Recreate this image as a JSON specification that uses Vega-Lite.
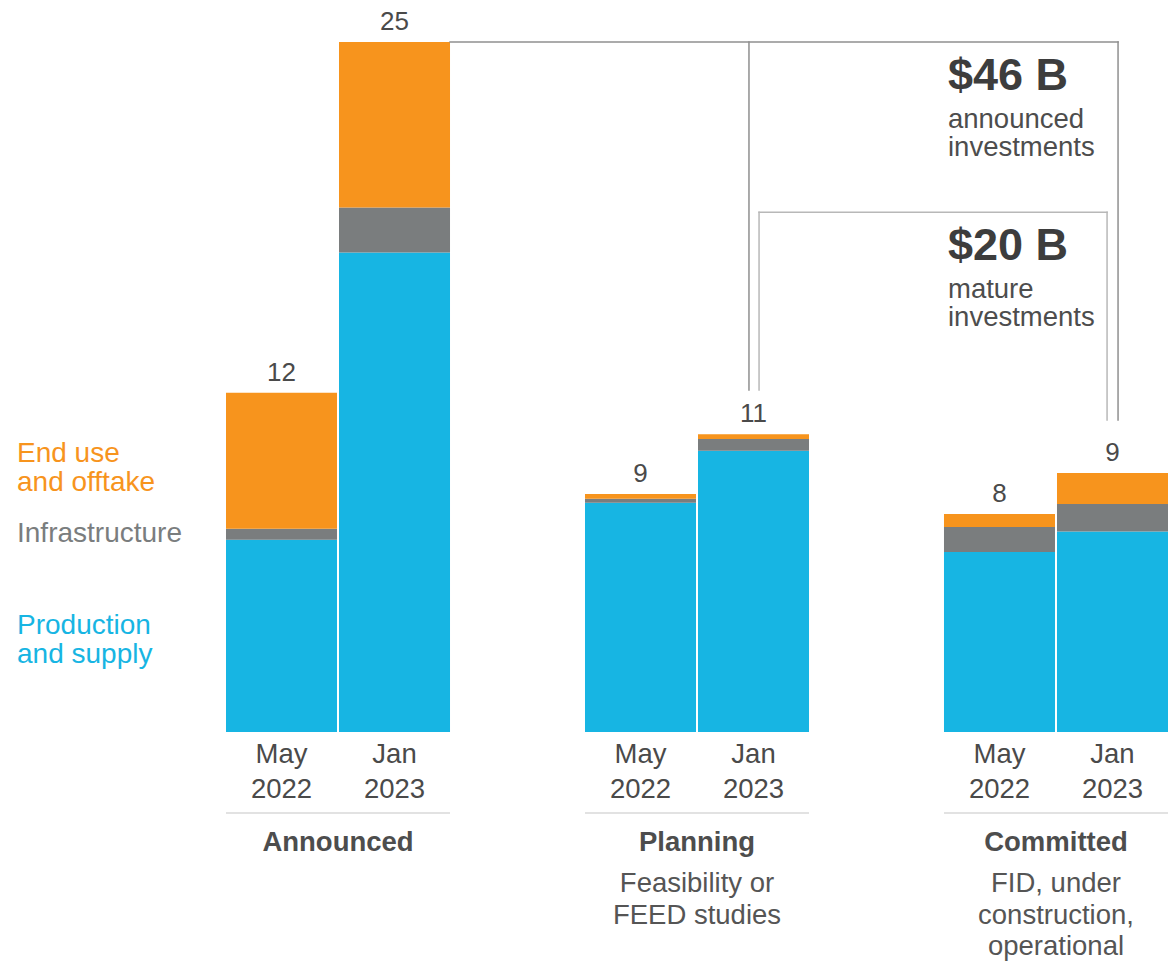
{
  "$schema": "https://vega.github.io/schema/vega-lite/v6.json",
  "width": 942,
  "height": 690,
  "autosize": {"type": "none"},
  "padding": {"left": 226, "top": 42, "right": 0, "bottom": 232},
  "background": "white",
  "config": {"view": {"stroke": null}, "text": {"font": "Liberation Sans"}},
  "datasets": {
    "bars": [
      {"stage": "Announced", "date": "May 2022", "segment": "Production\nand supply", "value": 6.97},
      {"stage": "Announced", "date": "May 2022", "segment": "Infrastructure", "value": 0.39},
      {"stage": "Announced", "date": "May 2022", "segment": "End use\nand offtake", "value": 4.93},
      {"stage": "Announced", "date": "Jan 2023", "segment": "Production\nand supply", "value": 17.37},
      {"stage": "Announced", "date": "Jan 2023", "segment": "Infrastructure", "value": 1.63},
      {"stage": "Announced", "date": "Jan 2023", "segment": "End use\nand offtake", "value": 6.0},
      {"stage": "Planning", "date": "May 2022", "segment": "Production\nand supply", "value": 8.31},
      {"stage": "Planning", "date": "May 2022", "segment": "Infrastructure", "value": 0.14},
      {"stage": "Planning", "date": "May 2022", "segment": "End use\nand offtake", "value": 0.17},
      {"stage": "Planning", "date": "Jan 2023", "segment": "Production\nand supply", "value": 10.19},
      {"stage": "Planning", "date": "Jan 2023", "segment": "Infrastructure", "value": 0.43},
      {"stage": "Planning", "date": "Jan 2023", "segment": "End use\nand offtake", "value": 0.17},
      {"stage": "Committed", "date": "May 2022", "segment": "Production\nand supply", "value": 6.52},
      {"stage": "Committed", "date": "May 2022", "segment": "Infrastructure", "value": 0.91},
      {"stage": "Committed", "date": "May 2022", "segment": "End use\nand offtake", "value": 0.47},
      {"stage": "Committed", "date": "Jan 2023", "segment": "Production\nand supply", "value": 7.26},
      {"stage": "Committed", "date": "Jan 2023", "segment": "Infrastructure", "value": 1.0},
      {"stage": "Committed", "date": "Jan 2023", "segment": "End use\nand offtake", "value": 1.12}
    ],
    "stages": [
      {"stage": "Announced", "subtitle": ""},
      {"stage": "Planning", "subtitle": "Feasibility or\nFEED studies"},
      {"stage": "Committed", "subtitle": "FID, under\nconstruction,\noperational"}
    ],
    "brackets": [
      {"bracket": "announced", "amount": "$46 B", "caption": "announced\ninvestments", "from": "Announced", "via": "Planning", "to": "Committed", "top": 25, "viaEnd": 12.39, "toEnd": 11.3},
      {"bracket": "mature", "amount": "$20 B", "caption": "mature\ninvestments", "from": "Planning", "via": "Planning", "to": "Committed", "top": 18.83, "viaEnd": 12.39, "toEnd": 11.3}
    ]
  },
  "layer": [
    {
      "data": {"name": "bars"},
      "mark": {"type": "bar"},
      "encoding": {
        "x": {"field": "stage", "type": "nominal", "axis": null, "scale": {"domain": ["Announced", "Planning", "Committed"], "paddingInner": 0.376, "paddingOuter": 0}},
        "xOffset": {"field": "date", "type": "nominal", "scale": {"domain": ["May 2022", "Jan 2023"], "paddingInner": 0.0177, "paddingOuter": 0}},
        "y": {"field": "value", "type": "quantitative", "axis": null, "scale": {"domain": [0, 25], "nice": false, "zero": true}},
        "color": {"field": "segment", "type": "nominal", "legend": null, "scale": {"domain": ["End use\nand offtake", "Infrastructure", "Production\nand supply"], "range": ["#F7941D", "#7A7D7E", "#17B5E3"]}},
        "order": {"field": "segment", "sort": "descending"}
      }
    },
    {
      "data": {"name": "bars"},
      "transform": [{"aggregate": [{"op": "sum", "field": "value", "as": "total"}], "groupby": ["stage", "date"]}],
      "mark": {"type": "text", "baseline": "alphabetic", "dy": -12, "fontSize": 26, "color": "#4a4a4a"},
      "encoding": {
        "x": {"field": "stage", "type": "nominal", "axis": null, "scale": {"domain": ["Announced", "Planning", "Committed"], "paddingInner": 0.376, "paddingOuter": 0}},
        "xOffset": {"field": "date", "type": "nominal", "scale": {"domain": ["May 2022", "Jan 2023"], "paddingInner": 0.0177, "paddingOuter": 0}},
        "y": {"field": "total", "type": "quantitative", "axis": null, "scale": {"domain": [0, 25], "nice": false, "zero": true}},
        "text": {"field": "total", "type": "quantitative", "format": ".0f"}
      }
    },
    {
      "data": {"name": "bars"},
      "transform": [{"aggregate": [{"op": "sum", "field": "value", "as": "total"}], "groupby": ["stage", "date"]}],
      "mark": {"type": "text", "baseline": "alphabetic", "dy": 31, "fontSize": 27.5, "lineBreak": " ", "lineHeight": 34.5, "color": "#4a4a4a"},
      "encoding": {
        "x": {"field": "stage", "type": "nominal", "axis": null, "scale": {"domain": ["Announced", "Planning", "Committed"], "paddingInner": 0.376, "paddingOuter": 0}},
        "xOffset": {"field": "date", "type": "nominal", "scale": {"domain": ["May 2022", "Jan 2023"], "paddingInner": 0.0177, "paddingOuter": 0}},
        "y": {"datum": 0, "type": "quantitative", "axis": null, "scale": {"domain": [0, 25], "nice": false, "zero": true}},
        "text": {"field": "date", "type": "nominal"}
      }
    },
    {
      "data": {"name": "stages"},
      "mark": {"type": "rule", "color": "#e2e2e2", "strokeWidth": 2, "yOffset": 81},
      "encoding": {
        "x": {"field": "stage", "type": "nominal", "bandPosition": 0, "axis": null, "scale": {"domain": ["Announced", "Planning", "Committed"], "paddingInner": 0.376, "paddingOuter": 0}},
        "x2": {"field": "stage", "bandPosition": 1},
        "y": {"datum": 0, "type": "quantitative", "axis": null, "scale": {"domain": [0, 25], "nice": false, "zero": true}}
      }
    },
    {
      "data": {"name": "stages"},
      "mark": {"type": "text", "baseline": "alphabetic", "dy": 119, "fontSize": 27.5, "fontWeight": "bold", "color": "#4d4d4d"},
      "encoding": {
        "x": {"field": "stage", "type": "nominal", "axis": null, "scale": {"domain": ["Announced", "Planning", "Committed"], "paddingInner": 0.376, "paddingOuter": 0}},
        "y": {"datum": 0, "type": "quantitative", "axis": null, "scale": {"domain": [0, 25], "nice": false, "zero": true}},
        "text": {"field": "stage", "type": "nominal"}
      }
    },
    {
      "data": {"name": "stages"},
      "mark": {"type": "text", "baseline": "alphabetic", "dy": 160, "fontSize": 27.5, "lineBreak": "\n", "lineHeight": 31.5, "color": "#555555"},
      "encoding": {
        "x": {"field": "stage", "type": "nominal", "axis": null, "scale": {"domain": ["Announced", "Planning", "Committed"], "paddingInner": 0.376, "paddingOuter": 0}},
        "y": {"datum": 0, "type": "quantitative", "axis": null, "scale": {"domain": [0, 25], "nice": false, "zero": true}},
        "text": {"field": "subtitle", "type": "nominal"}
      }
    },
    {
      "data": {"name": "bars"},
      "transform": [{"filter": "datum.stage === 'Announced' && datum.date === 'May 2022'"}],
      "mark": {"type": "text", "align": "left", "baseline": "middle", "dx": -209, "dy": 0, "fontSize": 28, "lineBreak": "\n", "lineHeight": 28.5},
      "encoding": {
        "x": {"field": "stage", "type": "nominal", "bandPosition": 0, "axis": null, "scale": {"domain": ["Announced", "Planning", "Committed"], "paddingInner": 0.376, "paddingOuter": 0}},
        "y": {"field": "value", "type": "quantitative", "stack": "zero", "bandPosition": 0.55, "axis": null, "scale": {"domain": [0, 25], "nice": false, "zero": true}},
        "color": {"field": "segment", "type": "nominal", "legend": null, "scale": {"domain": ["End use\nand offtake", "Infrastructure", "Production\nand supply"], "range": ["#F7941D", "#7A7D7E", "#17B5E3"]}},
        "order": {"field": "segment", "sort": "descending"},
        "text": {"field": "segment", "type": "nominal"}
      }
    },
    {
      "data": {"name": "brackets"},
      "transform": [{"filter": "datum.bracket === 'announced'"}],
      "mark": {"type": "rule", "color": "#8f8f8f", "strokeWidth": 1.5, "strokeCap": "square"},
      "encoding": {
        "x": {"field": "from", "type": "nominal", "bandPosition": 1, "axis": null, "scale": {"domain": ["Announced", "Planning", "Committed"], "paddingInner": 0.376, "paddingOuter": 0}},
        "x2": {"field": "to", "bandPosition": 0.777},
        "y": {"field": "top", "type": "quantitative", "axis": null, "scale": {"domain": [0, 25], "nice": false, "zero": true}}
      }
    },
    {
      "data": {"name": "brackets"},
      "transform": [{"filter": "datum.bracket === 'announced'"}],
      "mark": {"type": "rule", "color": "#8f8f8f", "strokeWidth": 1.5, "strokeCap": "square"},
      "encoding": {
        "x": {"field": "via", "type": "nominal", "bandPosition": 0.732, "axis": null, "scale": {"domain": ["Announced", "Planning", "Committed"], "paddingInner": 0.376, "paddingOuter": 0}},
        "y": {"field": "top", "type": "quantitative", "axis": null, "scale": {"domain": [0, 25], "nice": false, "zero": true}},
        "y2": {"field": "viaEnd"}
      }
    },
    {
      "data": {"name": "brackets"},
      "transform": [{"filter": "datum.bracket === 'announced'"}],
      "mark": {"type": "rule", "color": "#8f8f8f", "strokeWidth": 1.5, "strokeCap": "square"},
      "encoding": {
        "x": {"field": "to", "type": "nominal", "bandPosition": 0.777, "axis": null, "scale": {"domain": ["Announced", "Planning", "Committed"], "paddingInner": 0.376, "paddingOuter": 0}},
        "y": {"field": "top", "type": "quantitative", "axis": null, "scale": {"domain": [0, 25], "nice": false, "zero": true}},
        "y2": {"field": "toEnd"}
      }
    },
    {
      "data": {"name": "brackets"},
      "transform": [{"filter": "datum.bracket === 'mature'"}],
      "mark": {"type": "rule", "color": "#b8b8b8", "strokeWidth": 1.5, "strokeCap": "square"},
      "encoding": {
        "x": {"field": "from", "type": "nominal", "bandPosition": 0.777, "axis": null, "scale": {"domain": ["Announced", "Planning", "Committed"], "paddingInner": 0.376, "paddingOuter": 0}},
        "x2": {"field": "to", "bandPosition": 0.728},
        "y": {"field": "top", "type": "quantitative", "axis": null, "scale": {"domain": [0, 25], "nice": false, "zero": true}}
      }
    },
    {
      "data": {"name": "brackets"},
      "transform": [{"filter": "datum.bracket === 'mature'"}],
      "mark": {"type": "rule", "color": "#b8b8b8", "strokeWidth": 1.5, "strokeCap": "square"},
      "encoding": {
        "x": {"field": "via", "type": "nominal", "bandPosition": 0.777, "axis": null, "scale": {"domain": ["Announced", "Planning", "Committed"], "paddingInner": 0.376, "paddingOuter": 0}},
        "y": {"field": "top", "type": "quantitative", "axis": null, "scale": {"domain": [0, 25], "nice": false, "zero": true}},
        "y2": {"field": "viaEnd"}
      }
    },
    {
      "data": {"name": "brackets"},
      "transform": [{"filter": "datum.bracket === 'mature'"}],
      "mark": {"type": "rule", "color": "#b8b8b8", "strokeWidth": 1.5, "strokeCap": "square"},
      "encoding": {
        "x": {"field": "to", "type": "nominal", "bandPosition": 0.728, "axis": null, "scale": {"domain": ["Announced", "Planning", "Committed"], "paddingInner": 0.376, "paddingOuter": 0}},
        "y": {"field": "top", "type": "quantitative", "axis": null, "scale": {"domain": [0, 25], "nice": false, "zero": true}},
        "y2": {"field": "toEnd"}
      }
    },
    {
      "data": {"name": "brackets"},
      "mark": {"type": "text", "align": "left", "baseline": "alphabetic", "dx": 4, "dy": 48, "fontSize": 45, "fontWeight": "bold", "color": "#3d3d3d"},
      "encoding": {
        "x": {"field": "to", "type": "nominal", "bandPosition": 0, "axis": null, "scale": {"domain": ["Announced", "Planning", "Committed"], "paddingInner": 0.376, "paddingOuter": 0}},
        "y": {"field": "top", "type": "quantitative", "axis": null, "scale": {"domain": [0, 25], "nice": false, "zero": true}},
        "text": {"field": "amount", "type": "nominal"}
      }
    },
    {
      "data": {"name": "brackets"},
      "mark": {"type": "text", "align": "left", "baseline": "alphabetic", "dx": 4, "dy": 86, "fontSize": 27.5, "lineBreak": "\n", "lineHeight": 28, "color": "#4d4d4d"},
      "encoding": {
        "x": {"field": "to", "type": "nominal", "bandPosition": 0, "axis": null, "scale": {"domain": ["Announced", "Planning", "Committed"], "paddingInner": 0.376, "paddingOuter": 0}},
        "y": {"field": "top", "type": "quantitative", "axis": null, "scale": {"domain": [0, 25], "nice": false, "zero": true}},
        "text": {"field": "caption", "type": "nominal"}
      }
    }
  ]
}
